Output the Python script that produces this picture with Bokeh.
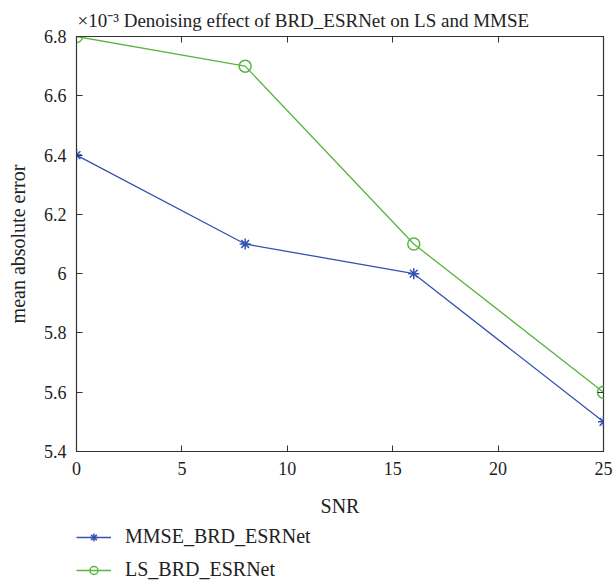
from bokeh.plotting import figure
from bokeh.models import Range1d, LinearAxis, FixedTicker, Legend, LegendItem, Title
from bokeh.layouts import column
from bokeh.embed import file_html
from bokeh.resources import INLINE

snr = [0, 8, 16, 25]
mmse = [6.4, 6.1, 6.0, 5.5]
ls = [6.8, 6.7, 6.1, 5.6]
x_ticks = [0, 5, 10, 15, 20, 25]
y_ticks = [5.4, 5.6, 5.8, 6.0, 6.2, 6.4, 6.6, 6.8]
labels = ["MMSE_BRD_ESRNet", "LS_BRD_ESRNet"]

FONT = "Liberation Serif"
BLUE = "#3452b0"
GREEN = "#5ab540"
INK = "#222222"

p = figure(width=615, height=526, output_backend="svg", toolbar_location=None,
           x_range=Range1d(0, 25), y_range=Range1d(5.4, 6.8),
           frame_width=527, frame_height=415,
           min_border_left=76, min_border_top=36, min_border_right=12, min_border_bottom=75,
           title=None)

p.title = Title(text="\u00d710\u207b\u00b3 Denoising effect of BRD_ESRNet on LS and MMSE",
                text_font=FONT, text_font_size="19px", text_font_style="normal",
                text_color=INK, align="left", offset=1, standoff=12)

p.grid.visible = False
p.outline_line_color = "#333333"
p.outline_line_width = 1.2
p.background_fill_color = "white"
p.border_fill_color = "white"

for ax in (p.xaxis[0], p.yaxis[0]):
    ax.major_tick_in = 6
    ax.major_tick_out = 0
    ax.minor_tick_line_color = None
    ax.axis_line_color = "#333333"
    ax.major_tick_line_color = "#333333"
    ax.major_label_text_font = FONT
    ax.major_label_text_font_size = "18px"
    ax.major_label_text_color = INK
    ax.axis_label_text_font = FONT
    ax.axis_label_text_font_size = "20px"
    ax.axis_label_text_font_style = "normal"
    ax.axis_label_text_color = INK

p.xaxis[0].ticker = FixedTicker(ticks=x_ticks)
p.yaxis[0].ticker = FixedTicker(ticks=y_ticks)
p.yaxis[0].major_label_overrides = {6: "6"}
p.xaxis[0].axis_label = "SNR"
p.yaxis[0].axis_label = "mean absolute error"
p.xaxis[0].major_label_standoff = 10
p.yaxis[0].major_label_standoff = 10
p.xaxis[0].axis_label_standoff = 17
p.yaxis[0].axis_label_standoff = 12

top = LinearAxis(ticker=FixedTicker(ticks=x_ticks), major_tick_in=6, major_tick_out=0,
                 minor_tick_line_color=None, axis_line_color=None,
                 major_label_text_font_size="0px", major_label_standoff=0,
                 major_tick_line_color="#333333")
right = LinearAxis(ticker=FixedTicker(ticks=y_ticks), major_tick_in=6, major_tick_out=0,
                   minor_tick_line_color=None, axis_line_color=None,
                   major_label_text_font_size="0px", major_label_standoff=0,
                   major_tick_line_color="#333333")
p.add_layout(top, "above")
p.add_layout(right, "right")

p.line(snr, mmse, line_color=BLUE, line_width=1.3)
p.scatter(snr, mmse, marker="asterisk", size=11, line_color=BLUE, line_width=1.5)
p.line(snr, ls, line_color=GREEN, line_width=1.3)
p.scatter(snr, ls, marker="circle", size=12, fill_color=None, line_color=GREEN, line_width=1.5)

# legend panel below the chart (same series, drawn off-range so only the legend shows)
q = figure(width=615, height=58, output_backend="svg", toolbar_location=None,
           x_range=Range1d(100, 101), y_range=Range1d(100, 101),
           x_axis_type=None, y_axis_type=None,
           min_border=0, min_border_left=0, min_border_right=0,
           min_border_top=0, min_border_bottom=0)
q.grid.visible = False
q.outline_line_color = None
q.background_fill_color = "white"
q.border_fill_color = "white"

q1 = q.line(snr, mmse, line_color=BLUE, line_width=1.3)
q1m = q.scatter(snr, mmse, marker="asterisk", size=11, line_color=BLUE, line_width=1.5)
q2 = q.line(snr, ls, line_color=GREEN, line_width=1.3)
q2m = q.scatter(snr, ls, marker="circle", size=12, fill_color=None, line_color=GREEN, line_width=1.5)

legend = Legend(items=[LegendItem(label=labels[0], renderers=[q1, q1m]),
                       LegendItem(label=labels[1], renderers=[q2, q2m])],
                location=(0, 3), orientation="vertical",
                label_text_font=FONT, label_text_font_size="20px", label_text_color=INK,
                glyph_width=35, glyph_height=20, label_height=20, label_standoff=14,
                spacing=10, padding=0, margin=0,
                border_line_color=None, background_fill_alpha=0)
q.add_layout(legend, "center")

layout = column(p, q, spacing=0)
open("out.html", "w").write(file_html(layout, INLINE))
